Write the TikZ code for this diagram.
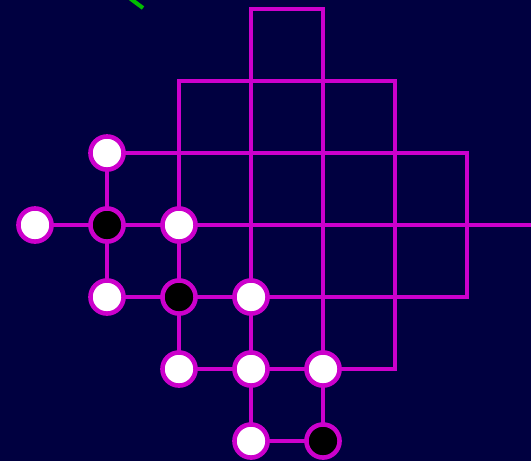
\documentclass[tikz,border=0pt]{standalone}
\usepackage{xcolor}
\definecolor{navy}{RGB}{0,0,64}
\definecolor{wire}{RGB}{204,0,204}
\definecolor{tick}{RGB}{0,190,0}
\pgfdeclarelayer{background}
\pgfsetlayers{background,main}

\begin{document}
\begin{tikzpicture}[x=1cm, y=-1cm]

        % 1. Grid and drawing limits (one grid step = 72px)
        \pgfmathsetmacro{\xmin}{-35/72}
        \pgfmathsetmacro{\ymin}{-9/72}
        \pgfmathsetmacro{\xmax}{496/72}
        \pgfmathsetmacro{\ymax}{452/72}

        \useasboundingbox (\xmin,\ymin) rectangle (\xmax,\ymax);
        \clip (\xmin,\ymin) rectangle (\xmax,\ymax);

        % grid points g<col><row>
        \foreach \c in {0,...,6}
          \foreach \r in {0,...,6}
            \coordinate (g\c\r) at (\c,\r);
        \coordinate (East) at (\xmax,3);

        \tikzset{wireline/.style={wire, line width=1.6pt, line join=miter},
                 spot/.style={circle, draw=wire, line width=1.8pt, minimum size=0.46cm, inner sep=0pt, fill=white},
                 hole/.style={spot, fill=black}}

        % 2. Stones (white and black)
        \node[spot] (s12) at (g12) {};
        \node[spot] (s03) at (g03) {};
        \node[hole] (s13) at (g13) {};
        \node[spot] (s23) at (g23) {};
        \node[spot] (s14) at (g14) {};
        \node[hole] (s24) at (g24) {};
        \node[spot] (s34) at (g34) {};
        \node[spot] (s25) at (g25) {};
        \node[spot] (s35) at (g35) {};
        \node[spot] (s45) at (g45) {};
        \node[spot] (s36) at (g36) {};
        \node[hole] (s46) at (g46) {};

        % 3. Wires and background, behind the stones
        \begin{pgfonlayer}{background}
          \fill[navy] (\xmin,\ymin) rectangle (\xmax,\ymax);

          % the little green stroke at the top
          \coordinate (TickA) at (90/72, -0.2);
          \coordinate (TickB) at (108/72, -1/72);
          \draw[tick, line width=1.6pt] (TickA) -- (TickB);

          \draw[wireline] (s12.center) -- (g62) -- (g64) -- (s34.center);
          \draw[wireline] (s03.center) -- (s23.center) -- (East);
          \draw[wireline] (s12.center) -- (s14.center);
          \draw[wireline] (s23.center) -- (g21) -- (g51) -- (g55) -- (s45.center);
          \draw[wireline] (s36.center) -- (g30) -- (g40) -- (s46.center);
          \draw[wireline] (s14.center) -- (s34.center);
          \draw[wireline] (s23.center) -- (s25.center) -- (s45.center);
          \draw[wireline] (s36.center) -- (s46.center);
        \end{pgfonlayer}

\end{tikzpicture}
\end{document}
